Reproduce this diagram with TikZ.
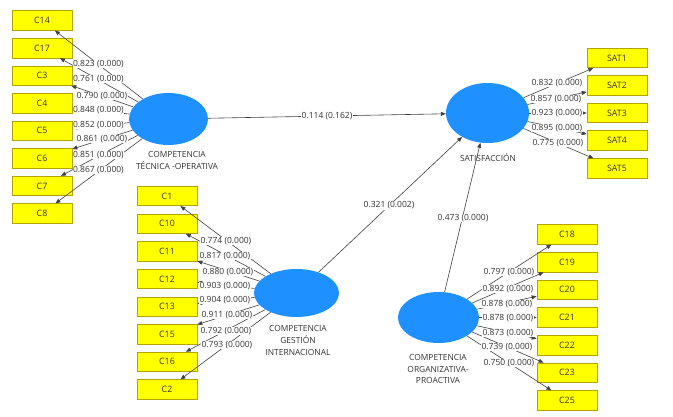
\documentclass[tikz,border=0pt]{standalone}
\usepackage{fontspec}
\setmainfont{Open Sans}
\usetikzlibrary{arrows.meta,shapes.geometric}
\definecolor{boxfill}{HTML}{FFFF00}
\definecolor{boxborder}{HTML}{B5A300}
\definecolor{latblue}{HTML}{1E90FF}
\definecolor{linegray}{HTML}{404040}
\definecolor{txtgray}{HTML}{333333}
\begin{document}
\begin{tikzpicture}[x=1pt,y=-1pt,
  ind/.style={draw=boxborder, fill=boxfill, line width=0.6pt, minimum width=60pt, minimum height=19.5pt, inner sep=0pt, font=\fontsize{8.8}{10}\selectfont, text=txtgray},
  lat/.style={ellipse, fill=latblue, draw=none, inner sep=0pt},
  latlab/.style={align=center, font=\fontsize{8.4}{11.8}\selectfont, text=txtgray},
  conn/.style={draw=linegray, line width=0.6pt, -{Triangle[length=5pt,width=4pt]}},
  ld/.style={fill=white, inner sep=0.4pt, anchor=west, font=\fontsize{8.5}{10}\selectfont, text=txtgray},
  pc/.style={fill=white, inner sep=0.6pt, font=\fontsize{8.5}{10}\selectfont, text=txtgray}
]
\useasboundingbox (0,0) rectangle (673,417);

% latent variables
\node[lat, minimum width=79pt, minimum height=52pt] (TEC) at (168.5,119) {};
\node[lat, minimum width=83pt, minimum height=60pt] (SAT) at (487.5,113) {};
\node[lat, minimum width=85pt, minimum height=48pt] (GI) at (296.5,293) {};
\node[lat, minimum width=81pt, minimum height=51pt] (OP) at (438.5,317.5) {};

\node[latlab] (TECl) at (177,160.5) {COMPETENCIA\\TÉCNICA -OPERATIVA};
\node[latlab] (SATl) at (488,158) {SATISFACCIÓN};
\node[latlab] (GIl) at (298,340.5) {COMPETENCIA\\GESTIÓN\\INTERNACIONAL};
\node[latlab] (OPl) at (438,369) {COMPETENCIA\\ORGANIZATIVA-\\PROACTIVA};

% indicators: technical-operative
\node[ind] (C14) at (42,20.5) {C14};
\node[ind] (C17) at (42,48.1) {C17};
\node[ind] (C3) at (42,75.6) {C3};
\node[ind] (C4) at (42,103.2) {C4};
\node[ind] (C5) at (42,130.8) {C5};
\node[ind] (C6) at (42,158.4) {C6};
\node[ind] (C7) at (42,185.9) {C7};
\node[ind] (C8) at (42,213.5) {C8};

% indicators: satisfaction
\node[ind] (SAT1) at (617,58) {SAT1};
\node[ind] (SAT2) at (617,85.5) {SAT2};
\node[ind] (SAT3) at (617,113) {SAT3};
\node[ind] (SAT4) at (617,140.5) {SAT4};
\node[ind] (SAT5) at (617,168.5) {SAT5};

% indicators: international management
\node[ind] (C1) at (167,196) {C1};
\node[ind] (C10) at (167,223.6) {C10};
\node[ind] (C11) at (167,251.3) {C11};
\node[ind] (C12) at (167,278.9) {C12};
\node[ind] (C13) at (167,306.6) {C13};
\node[ind] (C15) at (167,334.2) {C15};
\node[ind] (C16) at (167,361.8) {C16};
\node[ind] (C2) at (167,389.5) {C2};

% indicators: organizational-proactive
\node[ind] (C18) at (567,234.5) {C18};
\node[ind] (C19) at (567,262.2) {C19};
\node[ind] (C20) at (567,289.8) {C20};
\node[ind] (C21) at (567,317.5) {C21};
\node[ind] (C22) at (567,345.2) {C22};
\node[ind] (C23) at (567,372.8) {C23};
\node[ind] (C25) at (567,400.5) {C25};

% outer loadings arrows
\foreach \t in {C14,C17,C3,C4,C5,C6,C7,C8} \draw[conn] (TEC) -- (\t);
\foreach \t in {SAT1,SAT2,SAT3,SAT4,SAT5} \draw[conn] (SAT) -- (\t);
\foreach \t in {C1,C10,C11,C12,C13,C15,C16,C2} \draw[conn] (GI) -- (\t);
\foreach \t in {C18,C19,C20,C21,C22,C23,C25} \draw[conn] (OP) -- (\t);

% structural paths
\draw[conn] (TEC) -- (SAT);
\draw[conn] (GI) -- (SAT);
\draw[conn] (OP) -- (SAT);
\node[pc] (p1) at (327,116) {0.114 (0.162)};
\node[pc] (p2) at (389,205.5) {0.321 (0.002)};
\node[pc] (p3) at (463,218) {0.473 (0.000)};

% loading labels: technical-operative
\node[ld] (l1) at (72.5,64) {0.823 (0.000)};
\node[ld] (l2) at (72.5,79) {0.761 (0.000)};
\node[ld] (l3) at (76,96) {0.790 (0.000)};
\node[ld] (l4) at (72.5,110) {0.848 (0.000)};
\node[ld] (l5) at (72.5,125) {0.852 (0.000)};
\node[ld] (l6) at (76,139) {0.861 (0.000)};
\node[ld] (l7) at (72.5,155) {0.851 (0.000)};
\node[ld] (l8) at (72.5,170) {0.867 (0.000)};

% loading labels: satisfaction
\node[ld] (s1) at (531,83) {0.832 (0.000)};
\node[ld] (s2) at (530,99) {0.857 (0.000)};
\node[ld] (s3) at (531,113) {0.923 (0.000)};
\node[ld] (s4) at (531,128) {0.895 (0.000)};
\node[ld] (s5) at (532,143) {0.775 (0.000)};

% loading labels: international management
\node[ld] (g1) at (200,241) {0.774 (0.000)};
\node[ld] (g2) at (199,256) {0.817 (0.000)};
\node[ld] (g3) at (202,272) {0.880 (0.000)};
\node[ld] (g4) at (199,286) {0.903 (0.000)};
\node[ld] (g5) at (199,300) {0.904 (0.000)};
\node[ld] (g6) at (201,315) {0.911 (0.000)};
\node[ld] (g7) at (200,331) {0.792 (0.000)};
\node[ld] (g8) at (201,345) {0.793 (0.000)};

% loading labels: organizational-proactive
\node[ld] (o1) at (483,272) {0.797 (0.000)};
\node[ld] (o2) at (482,289) {0.892 (0.000)};
\node[ld] (o3) at (481,304) {0.878 (0.000)};
\node[ld] (o4) at (482,318) {0.878 (0.000)};
\node[ld] (o5) at (482,333) {0.873 (0.000)};
\node[ld] (o6) at (481,347) {0.739 (0.000)};
\node[ld] (o7) at (483,363) {0.750 (0.000)};
\end{tikzpicture}
\end{document}
